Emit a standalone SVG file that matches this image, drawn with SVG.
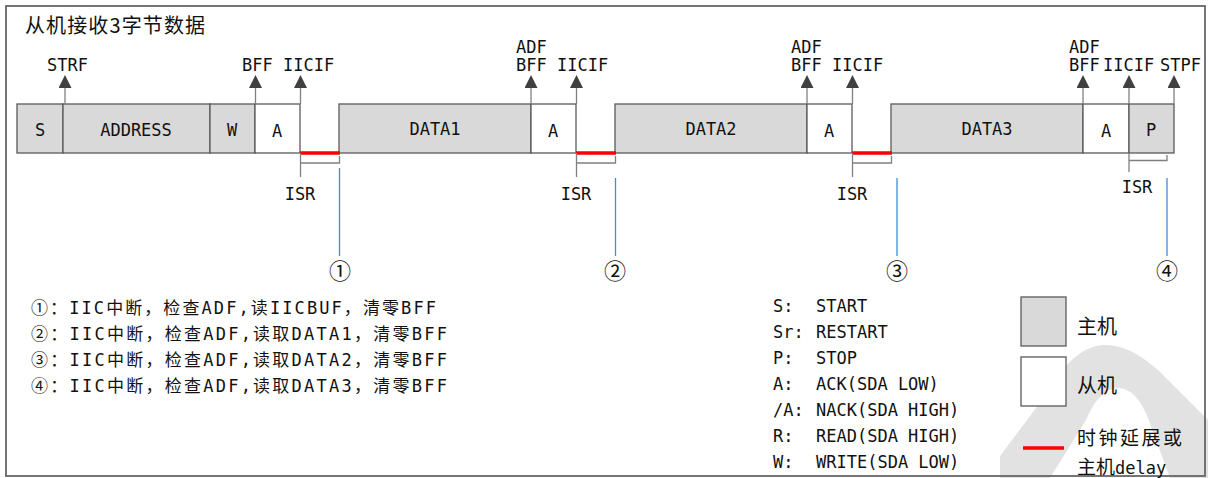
<svg xmlns="http://www.w3.org/2000/svg" width="1208" height="478" viewBox="0 0 1208 478">
<style>
text{font-family:'DejaVu Sans Mono','Noto Sans CJK SC',monospace;fill:#111;font-size:17px}
.m{text-anchor:middle}
.cjk{font-family:'Noto Sans CJK SC','DejaVu Sans Mono',sans-serif}
.s19{font-size:19px}
.s20{font-size:20px}
.s22{font-size:22px}
.g{fill:#d9d9d9;stroke:#595959;stroke-width:1.3}
.w{fill:#fff;stroke:#595959;stroke-width:1.3}
.ar{stroke:#808080;stroke-width:1.3;fill:none;marker-end:url(#ah)}
.br{stroke:#808080;stroke-width:1.3;fill:none}
.red{stroke:#ff0000;stroke-width:3.5;fill:none}
.bl{stroke:#3d8fd1;stroke-width:1.3;fill:none}
</style>
<defs>
<marker id="ah" viewBox="0 0 10 10" refX="0" refY="5" markerWidth="13" markerHeight="13" markerUnits="userSpaceOnUse" orient="auto">
<path d="M0,0 L10,5 L0,10 z" fill="#404040"/>
</marker>
</defs>
<rect x="0" y="0" width="1208" height="478" fill="#fff"/>
<path d="M1000 478 L1000 456 L1048 392 C1064 362 1085 345 1105 345 C1125 345 1142 356 1158 370 L1208 420 L1208 478 L1170 478 L1148 418 C1140 398 1130 388 1118 388 C1104 388 1094 402 1086 420 L1050 478 Z" fill="#e2e2e2"/>
<rect x="6" y="6" width="1199" height="470" fill="none" stroke="#666" stroke-width="1.8"/>
<text x="25" y="33" class="cjk s20" textLength="180">从机接收3字节数据</text>

<g id="frame">
<g id="cell-s"><rect class="g" x="17" y="104" width="46" height="49"/><text class="m" x="40" y="136">S</text></g>
<g id="cell-address"><rect class="g" x="63" y="104" width="147" height="49"/><text class="m" x="136" y="136">ADDRESS</text></g>
<g id="cell-w"><rect class="g" x="210" y="104" width="45" height="49"/><text class="m" x="232" y="136">W</text></g>
<g id="cell-a1"><rect class="w" x="255" y="104" width="45" height="49"/><text class="m" x="277" y="137">A</text></g>
<g id="cell-data1"><rect class="g" x="339" y="104" width="192" height="49" stroke="#2f5597"/><text class="m" x="435" y="135">DATA1</text></g>
<g id="cell-a2"><rect class="w" x="531" y="104" width="45" height="49"/><text class="m" x="553" y="137">A</text></g>
<g id="cell-data2"><rect class="g" x="615" y="104" width="192" height="49"/><text class="m" x="711" y="135">DATA2</text></g>
<g id="cell-a3"><rect class="w" x="807" y="104" width="45" height="49"/><text class="m" x="829" y="137">A</text></g>
<g id="cell-data3"><rect class="g" x="891" y="104" width="192" height="49"/><text class="m" x="987" y="135">DATA3</text></g>
<g id="cell-a4"><rect class="w" x="1083" y="104" width="46" height="49"/><text class="m" x="1106" y="137">A</text></g>
<g id="cell-p"><rect class="g" x="1129" y="104" width="45" height="49"/><text class="m" x="1151" y="136">P</text></g>
</g>

<g id="flags">
<text x="47" y="71">STRF</text>
<text x="242" y="71">BFF IICIF</text>
<text x="516" y="53">ADF</text>
<text x="516" y="71">BFF IICIF</text>
<text x="791" y="53">ADF</text>
<text x="791" y="71">BFF IICIF</text>
<text x="1069" y="53">ADF</text>
<text x="1069" y="71">BFF</text>
<text x="1103" y="71">IICIF</text>
<text x="1160" y="71">STPF</text>
</g>

<g id="connectors">
<path class="ar" d="M65 104 V88"/>
<path class="ar" d="M255.5 104 V88"/>
<path class="ar" d="M300.5 104 V88"/>
<path class="ar" d="M531 104 V88"/>
<path class="ar" d="M576.5 104 V88"/>
<path class="ar" d="M807 104 V88"/>
<path class="ar" d="M852.5 104 V88"/>
<path class="ar" d="M1083 104 V88"/>
<path class="ar" d="M1129 104 V88"/>
<path class="ar" d="M1174 104 V88"/>

<path class="red" d="M300 153 H340"/>
<path class="red" d="M576 153 H616"/>
<path class="red" d="M852 153 H892"/>

<path class="br" d="M300.5 153 V177 M300.5 163 H339.5 V156"/>
<path class="br" d="M576.5 153 V177 M576.5 163 H615.5 V156"/>
<path class="br" d="M852.5 153 V177 M852.5 163 H891.5 V156"/>
<path class="br" d="M1129 153 V172 M1129 160.5 H1167 V155"/>

<path class="bl" d="M339.5 168 V256" stroke="#1f5a96"/>
<path class="bl" d="M615.5 178 V256"/>
<path class="bl" d="M897 178 V256"/>
<path class="bl" d="M1167 178 V256"/>
</g>

<g id="isr-labels">
<text class="m" x="300" y="200">ISR</text>
<text class="m" x="576" y="200">ISR</text>
<text class="m" x="852" y="200">ISR</text>
<text class="m" x="1137" y="193">ISR</text>
</g>

<g id="markers">
<text class="m cjk s22" x="340" y="279">①</text>
<text class="m cjk s22" x="615" y="279">②</text>
<text class="m cjk s22" x="897" y="279">③</text>
<text class="m cjk s22" x="1167" y="279">④</text>
</g>

<g id="notes">
<text x="31" y="314" textLength="405">①：IIC中断，检查ADF,读IICBUF，清零BFF</text>
<text x="31" y="340" textLength="416">②：IIC中断，检查ADF,读取DATA1，清零BFF</text>
<text x="31" y="366" textLength="416">③：IIC中断，检查ADF,读取DATA2，清零BFF</text>
<text x="31" y="392" textLength="416">④：IIC中断，检查ADF,读取DATA3，清零BFF</text>
</g>

<g id="abbrev">
<text x="773" y="312">S:</text><text x="816" y="312">START</text>
<text x="773" y="338">Sr:</text><text x="816" y="338">RESTART</text>
<text x="773" y="364">P:</text><text x="816" y="364">STOP</text>
<text x="773" y="390">A:</text><text x="816" y="390">ACK(SDA LOW)</text>
<text x="773" y="416">/A:</text><text x="816" y="416">NACK(SDA HIGH)</text>
<text x="773" y="442">R:</text><text x="816" y="442">READ(SDA HIGH)</text>
<text x="773" y="468">W:</text><text x="816" y="468">WRITE(SDA LOW)</text>
</g>

<g id="legend">
<g id="legend-master"><rect class="g" x="1021" y="297" width="45" height="49" stroke="#808080"/><text class="cjk s20" x="1077" y="334">主机</text></g>
<g id="legend-slave"><rect class="w" x="1021" y="357" width="45" height="49" stroke="#808080"/><text class="cjk s20" x="1077" y="393">从机</text></g>
<g id="legend-delay"><path class="red" d="M1023 448 H1064"/><text class="cjk s19" x="1077" y="445" textLength="105">时钟延展或</text><text x="1077" y="474"><tspan class="cjk s19">主机</tspan><tspan>delay</tspan></text></g>
</g>
</svg>
